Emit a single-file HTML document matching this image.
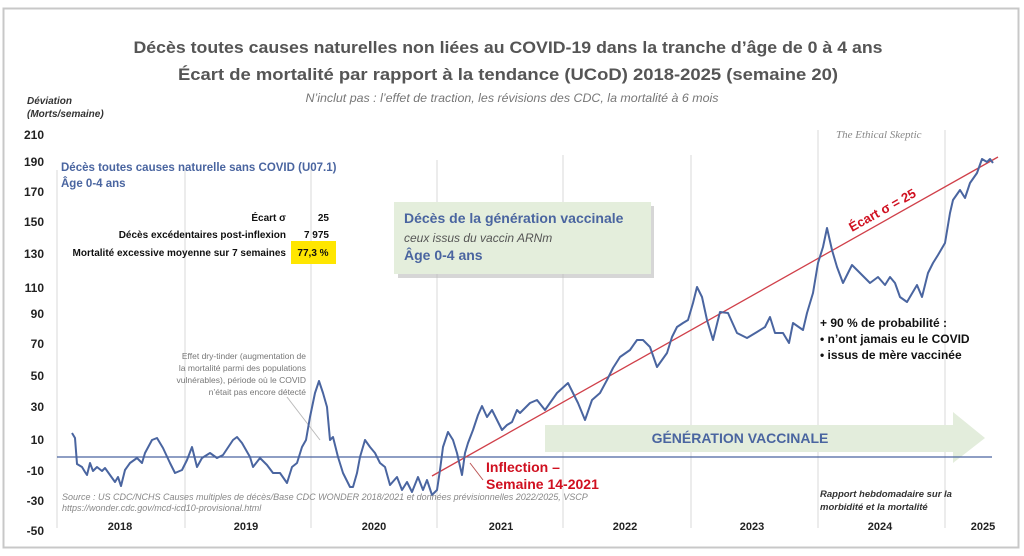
<!DOCTYPE html>
<html><head><meta charset="utf-8"><style>
html,body{margin:0;padding:0;background:#fff;}
svg{display:block;font-family:"Liberation Sans",sans-serif;}
</style></head><body>
<svg width="1024" height="556" viewBox="0 0 1024 556" xmlns="http://www.w3.org/2000/svg">
<rect x="0" y="0" width="1024" height="556" fill="#fff"/>
<rect x="3.5" y="8.5" width="1015" height="539" fill="#fff" stroke="#c8c8c8" stroke-width="2"/>
<text x="508" y="53" text-anchor="middle" font-size="17" font-weight="bold" fill="#555" textLength="749" lengthAdjust="spacingAndGlyphs">Décès toutes causes naturelles non liées au COVID-19 dans la tranche d’âge de 0 à 4 ans</text>
<text x="508" y="80" text-anchor="middle" font-size="17" font-weight="bold" fill="#555" textLength="660" lengthAdjust="spacingAndGlyphs">Écart de mortalité par rapport à la tendance (UCoD) 2018-2025 (semaine 20)</text>
<text x="512" y="102" text-anchor="middle" font-size="12" font-style="italic" fill="#777" textLength="413" lengthAdjust="spacingAndGlyphs">N’inclut pas : l’effet de traction, les révisions des CDC, la mortalité à 6 mois</text>
<text x="27" y="104" font-size="10" font-weight="bold" font-style="italic" fill="#333">Déviation</text>
<text x="27" y="117" font-size="10" font-weight="bold" font-style="italic" fill="#333">(Morts/semaine)</text>
<g font-size="12" font-weight="bold" fill="#222" text-anchor="end">
<text x="44" y="139">210</text><text x="44" y="166">190</text><text x="44" y="196">170</text><text x="44" y="226">150</text><text x="44" y="258">130</text><text x="44" y="292">110</text><text x="44" y="318">90</text><text x="44" y="348">70</text><text x="44" y="380">50</text><text x="44" y="411">30</text><text x="44" y="444">10</text><text x="44" y="475">-10</text><text x="44" y="505">-30</text><text x="44" y="535">-50</text>
</g>
<g stroke="#e6e6e6" stroke-width="1.5">
<line x1="57" y1="170" x2="57" y2="528"/><line x1="185" y1="170" x2="185" y2="528"/><line x1="311" y1="170" x2="311" y2="528"/><line x1="437" y1="160" x2="437" y2="528"/><line x1="563" y1="155" x2="563" y2="528"/><line x1="691" y1="155" x2="691" y2="528"/><line x1="818" y1="130" x2="818" y2="528"/><line x1="945" y1="130" x2="945" y2="528"/>
</g>
<g font-size="11" font-weight="bold" fill="#222" text-anchor="middle">
<text x="120" y="530">2018</text><text x="246" y="530">2019</text><text x="374" y="530">2020</text><text x="501" y="530">2021</text><text x="625" y="530">2022</text><text x="752" y="530">2023</text><text x="880" y="530">2024</text><text x="983" y="530">2025</text>
</g>
<text x="61" y="171" font-size="11.5" font-weight="bold" fill="#4a65a0">Décès toutes causes naturelle sans COVID (U07.1)</text>
<text x="61" y="187" font-size="11.5" font-weight="bold" fill="#4a65a0">Âge 0-4 ans</text>
<g font-size="10" font-weight="bold" fill="#111" text-anchor="end">
<text x="286" y="221">Écart σ</text><text x="286" y="238">Décès excédentaires post-inflexion</text><text x="286" y="256">Mortalité excessive moyenne sur 7 semaines</text>
<text x="329" y="221">25</text><text x="329" y="238">7 975</text>
</g>
<rect x="291" y="241" width="45" height="23" fill="#ffe600"/>
<text x="313" y="256" font-size="10" font-weight="bold" fill="#111" text-anchor="middle">77,3 %</text>
<rect x="398" y="206" width="256" height="72" fill="#bbb" opacity="0.6"/>
<rect x="394" y="202" width="257" height="72" fill="#e4eedc"/>
<text x="404" y="223" font-size="14" font-weight="bold" fill="#4a65a0">Décès de la génération vaccinale</text>
<text x="404" y="242" font-size="12" font-style="italic" fill="#555">ceux issus du vaccin ARNm</text>
<text x="404" y="260" font-size="14" font-weight="bold" fill="#4a65a0">Âge 0-4 ans</text>
<polygon points="545,425 953,425 953,412 985,438 953,463 953,452 545,452" fill="#e3eddc"/>
<text x="740" y="443" font-size="14" font-weight="bold" fill="#4a65a0" text-anchor="middle">GÉNÉRATION VACCINALE</text>
<line x1="57" y1="457" x2="992" y2="457" stroke="#4a65a0" stroke-width="1.3"/>
<line x1="432" y1="476" x2="998" y2="157" stroke="#d0404a" stroke-width="1.3"/>
<line x1="287" y1="397" x2="320" y2="440" stroke="#bbb" stroke-width="1"/>
<line x1="470" y1="463" x2="483" y2="480" stroke="#b55" stroke-width="1"/>
<text x="306" y="359" font-size="8.5" fill="#777" text-anchor="end">Effet dry-tinder (augmentation de</text>
<text x="306" y="371" font-size="8.5" fill="#777" text-anchor="end">la mortalité parmi des populations</text>
<text x="306" y="383" font-size="8.5" fill="#777" text-anchor="end">vulnérables), période où le COVID</text>
<text x="306" y="395" font-size="8.5" fill="#777" text-anchor="end">n’était pas encore détecté</text>
<polyline fill="none" stroke="#4a65a0" stroke-width="2" stroke-linejoin="round" points="72,433 75,438 77,464 82,467 85,472 87,475 90,463 93,471 97,467 102,471 105,468 110,475 115,482 118,477 121,486 125,470 130,463 137,458 142,463 145,453 152,440 157,438 163,448 170,463 175,473 182,470 187,460 192,447 197,467 202,458 210,453 217,458 223,455 233,440 237,437 242,443 250,457 253,467 260,458 267,465 273,473 280,473 287,483 292,467 297,463 302,447 306,440 310,417 315,393 319,381 323,393 327,407 330,440 333,437 338,457 343,473 350,487 353,487 357,473 360,457 365,440 370,447 375,453 380,463 385,467 390,485 397,477 402,490 407,482 412,492 418,477 423,490 427,480 432,495 437,490 440,470 443,447 448,432 453,440 457,453 462,475 465,453 468,443 473,430 478,415 482,406 487,417 492,410 498,422 502,430 507,425 512,422 517,410 520,413 530,403 537,400 545,410 557,393 568,383 578,403 585,420 592,400 600,393 607,380 613,368 620,357 630,350 637,340 643,340 650,347 657,367 667,353 672,337 677,327 683,323 688,320 693,303 697,287 702,297 707,320 713,340 720,312 728,313 737,333 747,338 757,332 765,327 770,317 775,333 783,333 789,343 793,323 803,330 807,313 813,293 818,263 823,247 827,228 832,250 837,267 843,283 852,265 860,273 870,283 878,277 885,285 890,277 895,283 900,297 907,302 917,285 922,297 928,273 933,263 938,255 945,243 950,213 953,200 960,190 965,198 970,183 977,173 982,159 987,162 990,159 993,163"/>
<text x="0" y="0" font-size="13" font-weight="bold" fill="#d01020" transform="translate(852,232) rotate(-29)">Écart σ = 25</text>
<text x="486" y="472" font-size="14" font-weight="bold" fill="#d01020">Inflection –</text>
<text x="486" y="489" font-size="14" font-weight="bold" fill="#d01020">Semaine 14-2021</text>
<text x="820" y="327" font-size="12" font-weight="bold" fill="#111">+ 90 % de probabilité :</text>
<text x="820" y="343" font-size="12" font-weight="bold" fill="#111">•  n’ont jamais eu le COVID</text>
<text x="820" y="359" font-size="12" font-weight="bold" fill="#111">•  issus de mère vaccinée</text>
<text x="836" y="138" font-size="11" font-style="italic" fill="#888" font-family="Liberation Serif,serif">The Ethical Skeptic</text>
<text x="62" y="500" font-size="9" font-style="italic" fill="#888">Source : US CDC/NCHS Causes multiples de décès/Base CDC WONDER 2018/2021 et données prévisionnelles 2022/2025, VSCP</text>
<text x="62" y="511" font-size="9" font-style="italic" fill="#888">https://wonder.cdc.gov/mcd-icd10-provisional.html</text>
<text x="820" y="497" font-size="9.5" font-weight="bold" font-style="italic" fill="#333">Rapport hebdomadaire sur la</text>
<text x="820" y="510" font-size="9.5" font-weight="bold" font-style="italic" fill="#333">morbidité et la mortalité</text>
</svg>
</body></html>
